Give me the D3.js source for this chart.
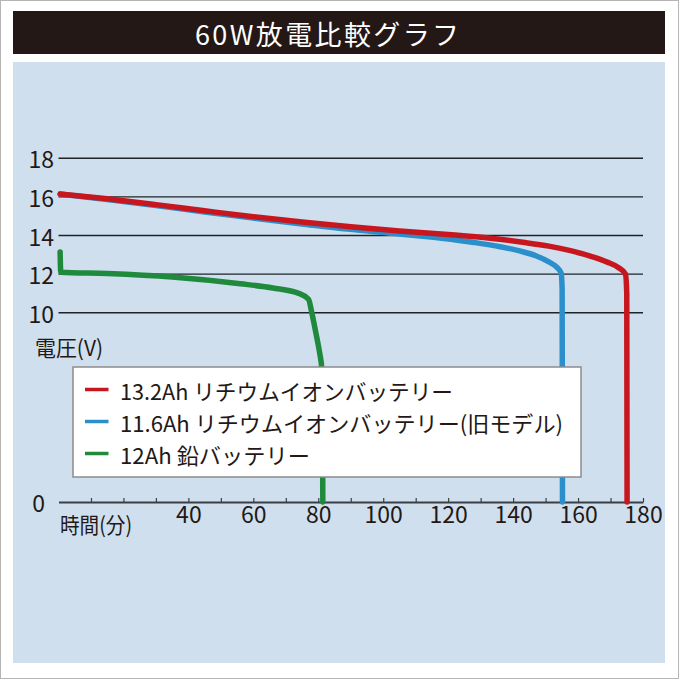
<!doctype html>
<html lang="ja">
<head>
  <meta charset="utf-8">
  <title>60W放電比較グラフ</title>
  <script src="https://d3js.org/d3.v7.min.js"></script>
  <style>
    body { margin: 0; background: #fff; }
    text { font-family: "Noto Sans CJK JP", "Noto Sans", sans-serif; }
  </style>
</head>
<body>
  <div id="my_chart"></div>
<script>
  const size = 679;

  // data
  const chart_title = "60W放電比較グラフ";
  const y_axis_title = "電圧(V)";
  const x_axis_title = "時間(分)";
  const y_tick_values = [0, 10, 12, 14, 16, 18];
  const x_tick_values = [10, 20, 30, 40, 50, 60, 70, 80, 90, 100, 110, 120, 130, 140, 150, 160, 170, 180];
  const x_tick_labels = [40, 60, 80, 100, 120, 140, 160, 180];

  const series_names = [
    "13.2Ah リチウムイオンバッテリー",
    "11.6Ah リチウムイオンバッテリー(旧モデル)",
    "12Ah 鉛バッテリー"
  ];
  const series_colors = ["#c8161e", "#2b8fcc", "#1f8a3c"];

  // [minutes, volts]
  const li_132 = [[0.5, 16.15], [15, 15.9], [30, 15.6], [45, 15.28], [60, 14.97], [75, 14.7],
                  [90, 14.45], [105, 14.23], [120, 14.05], [133, 13.86], [143, 13.65], [151, 13.45],
                  [158, 13.2], [164, 12.92], [169, 12.62], [172.5, 12.33], [174.6, 12.0],
                  [175.0, 11.0], [175.1, 0]];
  const li_116 = [[0.5, 16.15], [15, 15.86], [30, 15.55], [45, 15.22], [60, 14.9], [75, 14.6],
                  [89, 14.33], [105, 14.08], [118, 13.86], [128, 13.64], [136, 13.42], [142, 13.2],
                  [147, 12.95], [151, 12.63], [153.5, 12.35], [154.8, 12.05], [155.1, 11.2],
                  [155.2, 0]];
  const lead_12 = [[0.5, 13.15], [0.7, 12.1], [15, 12.03], [35, 11.85], [56, 11.5], [66, 11.28],
                   [74, 11.0], [77, 10.7], [78, 10.0], [79.3, 8.9], [80.4, 7.9], [81.1, 7.0],
                   [81.3, 4.0], [81.4, 0]];
  const series_data = [li_132, li_116, lead_12];
  const draw_order = [1, 0, 2];

  // scales (y axis is broken between 0 and 10)
  const x = d3.scaleLinear().domain([0, 180]).range([58.5, 643]);
  const y = d3.scaleLinear().domain([0, 10, 18]).range([502, 312.7, 158.3]);

  const line = d3.line()
    .x((d) => x(d[0]))
    .y((d) => y(d[1]))
    .curve(d3.curveMonotoneX);

  const svg = d3.select('#my_chart').append('svg')
    .attr('width', size)
    .attr('height', size);

  svg.append('rect')
    .attr('x', 0.5).attr('y', 0.5)
    .attr('width', size - 1).attr('height', size - 1)
    .attr('fill', '#fff')
    .attr('stroke', '#b5b5b5');

  // title bar
  svg.append('rect')
    .attr('x', 13).attr('y', 11)
    .attr('width', 652).attr('height', 43)
    .attr('fill', '#231815');
  svg.append('text')
    .attr('x', 327).attr('y', 33)
    .attr('text-anchor', 'middle')
    .attr('dominant-baseline', 'central')
    .attr('fill', '#fff')
    .style('font-size', '27px')
    .attr('textLength', 264)
    .attr('lengthAdjust', 'spacing')
    .text(chart_title);

  // plot panel
  svg.append('rect')
    .attr('x', 13).attr('y', 62)
    .attr('width', 652).attr('height', 601)
    .attr('fill', '#cfdfee');

  // gridlines
  svg.append('g')
    .selectAll('line')
    .data(y_tick_values.filter((v) => v > 0))
    .enter()
      .append('line')
      .attr('x1', x(0)).attr('x2', x(180))
      .attr('y1', (d) => y(d)).attr('y2', (d) => y(d))
      .attr('stroke', '#1e2328')
      .attr('stroke-width', 1.4);

  // y labels
  svg.append('g')
    .selectAll('text')
    .data(y_tick_values)
    .enter()
      .append('text')
      .attr('x', (d) => d === 0 ? 45 : 54)
      .attr('y', (d) => y(d))
      .attr('text-anchor', 'end')
      .attr('dominant-baseline', 'central')
      .attr('fill', '#231815')
      .style('font-size', '23px')
      .text((d) => d);

  svg.append('text')
    .attr('x', 35).attr('y', 346)
    .attr('dominant-baseline', 'central')
    .attr('fill', '#231815')
    .style('font-size', '22px')
    .attr('textLength', 68)
    .attr('lengthAdjust', 'spacingAndGlyphs')
    .text(y_axis_title);

  // x axis, ticks pointing up
  const x_axis = svg.append('g')
    .attr('transform', 'translate(0,' + y(0) + ')')
    .call(d3.axisBottom(x)
      .tickValues(x_tick_values)
      .tickSizeInner(-4)
      .tickSizeOuter(0)
      .tickPadding(5)
      .tickFormat((d) => x_tick_labels.includes(d) ? d : ''));
  x_axis.select('.domain').attr('stroke', '#3a3f45').attr('stroke-width', 2);
  x_axis.selectAll('.tick line').attr('stroke', '#3a3f45').attr('stroke-width', 1.2);
  x_axis.selectAll('.tick text')
    .attr('fill', '#231815')
    .style('font-size', '23px')
    .style('font-family', '"Noto Sans CJK JP", sans-serif');

  svg.append('text')
    .attr('x', 60).attr('y', 523)
    .attr('dominant-baseline', 'central')
    .attr('fill', '#231815')
    .style('font-size', '22px')
    .attr('textLength', 72)
    .attr('lengthAdjust', 'spacingAndGlyphs')
    .text(x_axis_title);

  // discharge lines
  svg.append('g')
    .selectAll('path')
    .data(draw_order)
    .enter()
      .append('path')
      .attr('d', (i) => line(series_data[i]))
      .attr('stroke', (i) => series_colors[i])
      .attr('stroke-width', 5.5)
      .attr('stroke-linecap', 'round')
      .attr('stroke-linejoin', 'round')
      .style('fill', 'none');

  // legend
  const legend_text_widths = [333, 443, 190];
  const legend = svg.append('g');
  legend.append('rect')
    .attr('x', 73).attr('y', 367)
    .attr('width', 508).attr('height', 110)
    .attr('fill', '#fff')
    .attr('stroke', '#8c8c8c')
    .attr('stroke-width', 1.5);
  const items = legend.selectAll('g.item')
    .data(series_names)
    .enter()
      .append('g')
      .attr('class', 'item')
      .attr('transform', (d, i) => 'translate(0,' + (389.5 + i * 32) + ')');
  items.append('line')
    .attr('x1', 85).attr('x2', 108.5)
    .attr('stroke', (d, i) => series_colors[i])
    .attr('stroke-width', 3.5);
  items.append('text')
    .attr('x', 120)
    .attr('dominant-baseline', 'central')
    .attr('fill', '#231815')
    .style('font-size', '22px')
    .attr('textLength', (d, i) => legend_text_widths[i])
    .attr('lengthAdjust', 'spacingAndGlyphs')
    .text((d) => d);
</script>
</body>
</html>
